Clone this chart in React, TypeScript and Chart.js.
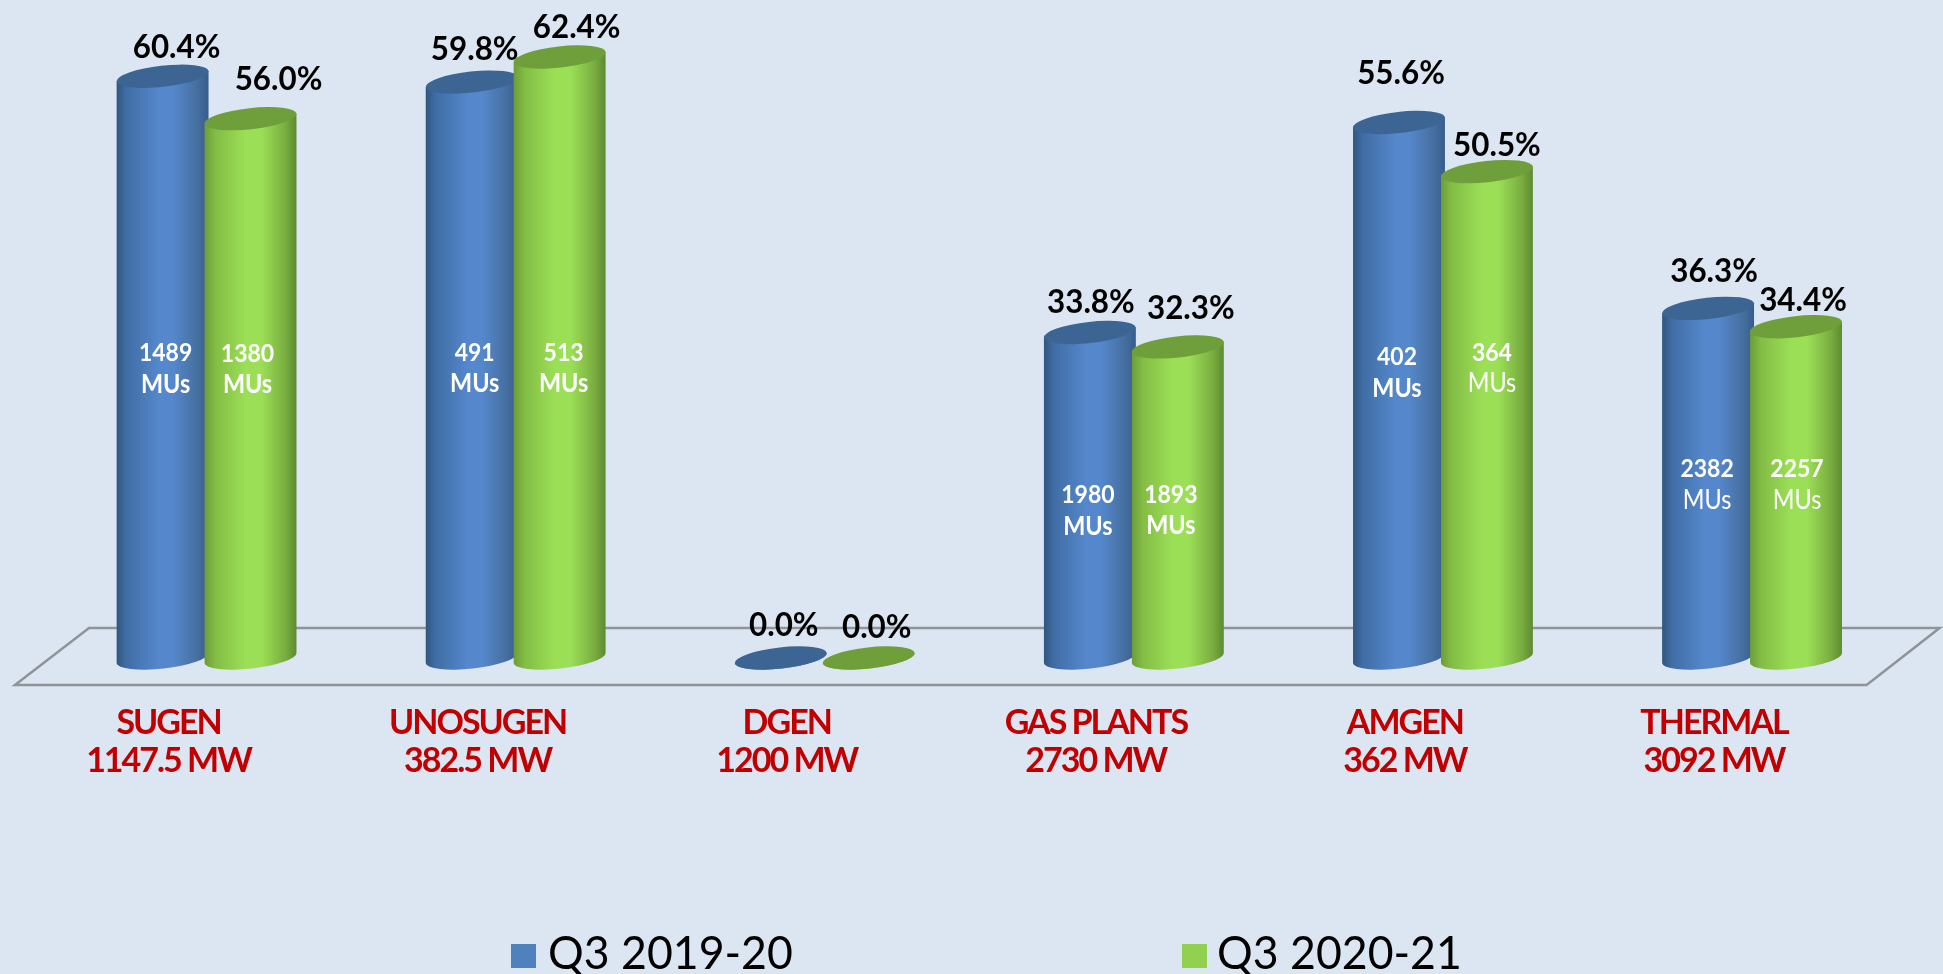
import React, { useEffect, useRef } from "react";
import { Chart, registerables, BarController, BarElement } from "chart.js";

// ---- data ----
const plantNames = ["SUGEN", "UNOSUGEN", "DGEN", "GAS PLANTS", "AMGEN", "THERMAL"];
const plantCapacities = ["1147.5 MW", "382.5 MW", "1200 MW", "2730 MW", "362 MW", "3092 MW"];
const seriesNames = ["Q3 2019-20", "Q3 2020-21"];
const plfQ3Y1 = [60.4, 59.8, 0.0, 33.8, 55.6, 36.3];
const plfQ3Y2 = [56.0, 62.4, 0.0, 32.3, 50.5, 34.4];
const musQ3Y1 = [1489, 491, null, 1980, 402, 2382];
const musQ3Y2 = [1380, 513, null, 1893, 364, 2257];

// ---- label nudges (style only, px) ----
const pctNudgeX = [[14, 3, 3, 1, 2, 6], [28, 17, 8, 13, 10, 7]];
const pctNudgeY = [[-29, -33, -33, -30, -49, -37], [-39, -30, -31, -39, -26, -26]];
const muNudgeX = [[3, 3, 0, -2, -2, -1], [-3, 4, 0, -7, 5, 1]];
const muNudgeY = [[1.5, -1.5, 0, 15.5, -17.5, 1.5], [-19, 11, 0, 8, -46.5, -7.5]];
const muLightUnit = [[false, false, false, false, false, true], [false, false, false, false, true, true]];

const BG = "#dce6f2";
const BLUE = "#4f81bd";
const GREEN = "#92d050";
const FONT = "Lato, sans-serif";
const TILT = 0.11;
const RY = 10.6;

const palettes: any = {
  [BLUE]: { stops: [[0, "#30567f"], [0.1, "#3f6ca3"], [0.45, "#5487cb"], [0.62, "#5487cb"], [0.88, "#466f9f"], [1, "#355c8c"]], top: "#3c6594" },
  [GREEN]: { stops: [[0, "#6c9c3a"], [0.12, "#83bd45"], [0.45, "#9bdf56"], [0.62, "#9bdf56"], [0.88, "#79ad40"], [1, "#5c8a32"]], top: "#6f9f3b" },
};

class CylinderElement extends (BarElement as any) {
  static id = "cylinder";
  draw(ctx: CanvasRenderingContext2D) {
    const { x, y, base, width } = (this as any).getProps(["x", "y", "base", "width"]);
    const p = palettes[(this as any).options.backgroundColor] || palettes[BLUE];
    const half = width / 2;
    const rx = half / Math.cos(TILT);
    const dy = rx * Math.sin(TILT);
    const grad = ctx.createLinearGradient(x - half, 0, x + half, 0);
    p.stops.forEach((s: any) => grad.addColorStop(s[0], s[1]));
    ctx.save();
    ctx.fillStyle = grad;
    ctx.beginPath();
    ctx.moveTo(x - half, y + dy);
    ctx.lineTo(x - half, base + dy);
    ctx.ellipse(x, base, rx, RY, -TILT, Math.PI, 0, true);
    ctx.lineTo(x + half, y - dy);
    ctx.closePath();
    ctx.fill();
    ctx.fillStyle = p.top;
    ctx.beginPath();
    ctx.ellipse(x, y, rx, RY, -TILT, 0, Math.PI * 2);
    ctx.fill();
    ctx.restore();
  }
}

class CylinderController extends (BarController as any) {
  static id = "cylinder";
  static defaults = { ...(BarController as any).defaults, dataElementType: "cylinder" };
}

Chart.register(...registerables, CylinderElement as any, CylinderController as any);

function squeezed(ctx: CanvasRenderingContext2D, text: string, x: number, y: number, sx: number) {
  ctx.save();
  ctx.translate(x, y);
  ctx.scale(sx, 1);
  ctx.fillText(text, 0, 0);
  ctx.restore();
}

const scenePlugin = {
  id: "scene",
  beforeDraw(chart: any) {
    const { ctx, width, height } = chart;
    ctx.save();
    ctx.fillStyle = BG;
    ctx.fillRect(0, 0, width, height);
    ctx.restore();
  },
  beforeDatasetsDraw(chart: any) {
    const { ctx, chartArea: a } = chart;
    ctx.save();
    ctx.strokeStyle = "#8f9499";
    ctx.lineWidth = 2.5;
    ctx.lineJoin = "miter";
    ctx.beginPath();
    ctx.moveTo(a.left - 37, a.bottom + 27);
    ctx.lineTo(a.left + 37, a.bottom - 30);
    ctx.lineTo(a.right + 33, a.bottom - 30);
    ctx.lineTo(a.right - 40, a.bottom + 27);
    ctx.closePath();
    ctx.stroke();
    ctx.restore();
  },
  beforeDatasetDraw(_chart: any, args: any) {
    if (args.index === 1) return false;
  },
  afterDatasetsDraw(chart: any) {
    const { ctx } = chart;
    chart.getDatasetMeta(1).data.forEach((el: any) => el.draw(ctx));
    const mus = [musQ3Y1, musQ3Y2];
    const plf = [plfQ3Y1, plfQ3Y2];
    ctx.save();
    ctx.textAlign = "center";
    ctx.textBaseline = "middle";
    [0, 1].forEach((d) => {
      chart.getDatasetMeta(d).data.forEach((el: any, i: number) => {
        const { x, y, base } = el.getProps(["x", "y", "base"]);
        ctx.fillStyle = "#000000";
        ctx.font = `bold 33px ${FONT}`;
        squeezed(ctx, plf[d][i].toFixed(1) + "%", x + pctNudgeX[d][i], y + pctNudgeY[d][i], 0.95);
        const v = mus[d][i];
        if (v !== null) {
          const cx = x + muNudgeX[d][i];
          const cy = (y + base) / 2 + muNudgeY[d][i];
          ctx.fillStyle = "#ffffff";
          ctx.font = `bold 25px ${FONT}`;
          squeezed(ctx, String(v), cx, cy - 15.5, 0.92);
          ctx.font = `${muLightUnit[d][i] ? "normal" : "bold"} 26px ${FONT}`;
          squeezed(ctx, "MUs", cx, cy + 15.5, 0.9);
        }
      });
    });
    // legend
    const entries = [
      { box: 511, text: 548, color: BLUE },
      { box: 1182, text: 1217, color: GREEN },
    ];
    entries.forEach((e, i) => {
      ctx.fillStyle = e.color;
      ctx.fillRect(e.box, 944, 25, 24);
      ctx.fillStyle = "#000000";
      ctx.font = `normal 46px ${FONT}`;
      ctx.textAlign = "left";
      ctx.textBaseline = "alphabetic";
      squeezed(ctx, chart.data.datasets[i].label, e.text, 969, 0.97);
    });
    ctx.restore();
  },
};

const tickSpacing = {
  id: "tickSpacing",
  beforeDraw(chart: any) { chart.ctx.letterSpacing = "-2px"; },
  beforeDatasetsDraw(chart: any) { chart.ctx.letterSpacing = "0px"; },
};

export default function App() {
  const ref = useRef<HTMLCanvasElement>(null);
  useEffect(() => {
    document.body.style.margin = "0";
    document.body.style.background = BG;
    const chart = new Chart(ref.current as any, {
      type: "cylinder" as any,
      data: {
        labels: plantNames.map((n, i) => [n, plantCapacities[i]]),
        datasets: [
          { label: seriesNames[0], data: plfQ3Y1, backgroundColor: BLUE, barPercentage: 1.045, categoryPercentage: 0.569, clip: false },
          { label: seriesNames[1], data: plfQ3Y2, backgroundColor: GREEN, barPercentage: 1.045, categoryPercentage: 0.569, clip: false },
        ] as any,
      },
      options: {
        responsive: false,
        animation: false,
        layout: { padding: { left: 52, right: 36.4, top: 32, bottom: 0 } },
        plugins: { legend: { display: false }, tooltip: { enabled: false }, title: { display: false } },
        scales: {
          x: {
            type: "category",
            offset: true,
            grid: { display: false },
            border: { display: false },
            afterFit: (s: any) => { s.height = 316; },
            ticks: {
              autoSkip: false,
              maxRotation: 0,
              minRotation: 0,
              labelOffset: -38,
              padding: 38,
              color: "#c00000",
              font: { family: FONT, size: 34, weight: "bold", lineHeight: 1.12 },
            },
          },
          y: { type: "linear", min: 0, max: 65, display: false },
        },
      } as any,
      plugins: [scenePlugin as any, tickSpacing as any],
    });
    return () => chart.destroy();
  }, []);
  return <canvas ref={ref} width={1943} height={974} style={{ display: "block", width: 1943, height: 974 }} />;
}
